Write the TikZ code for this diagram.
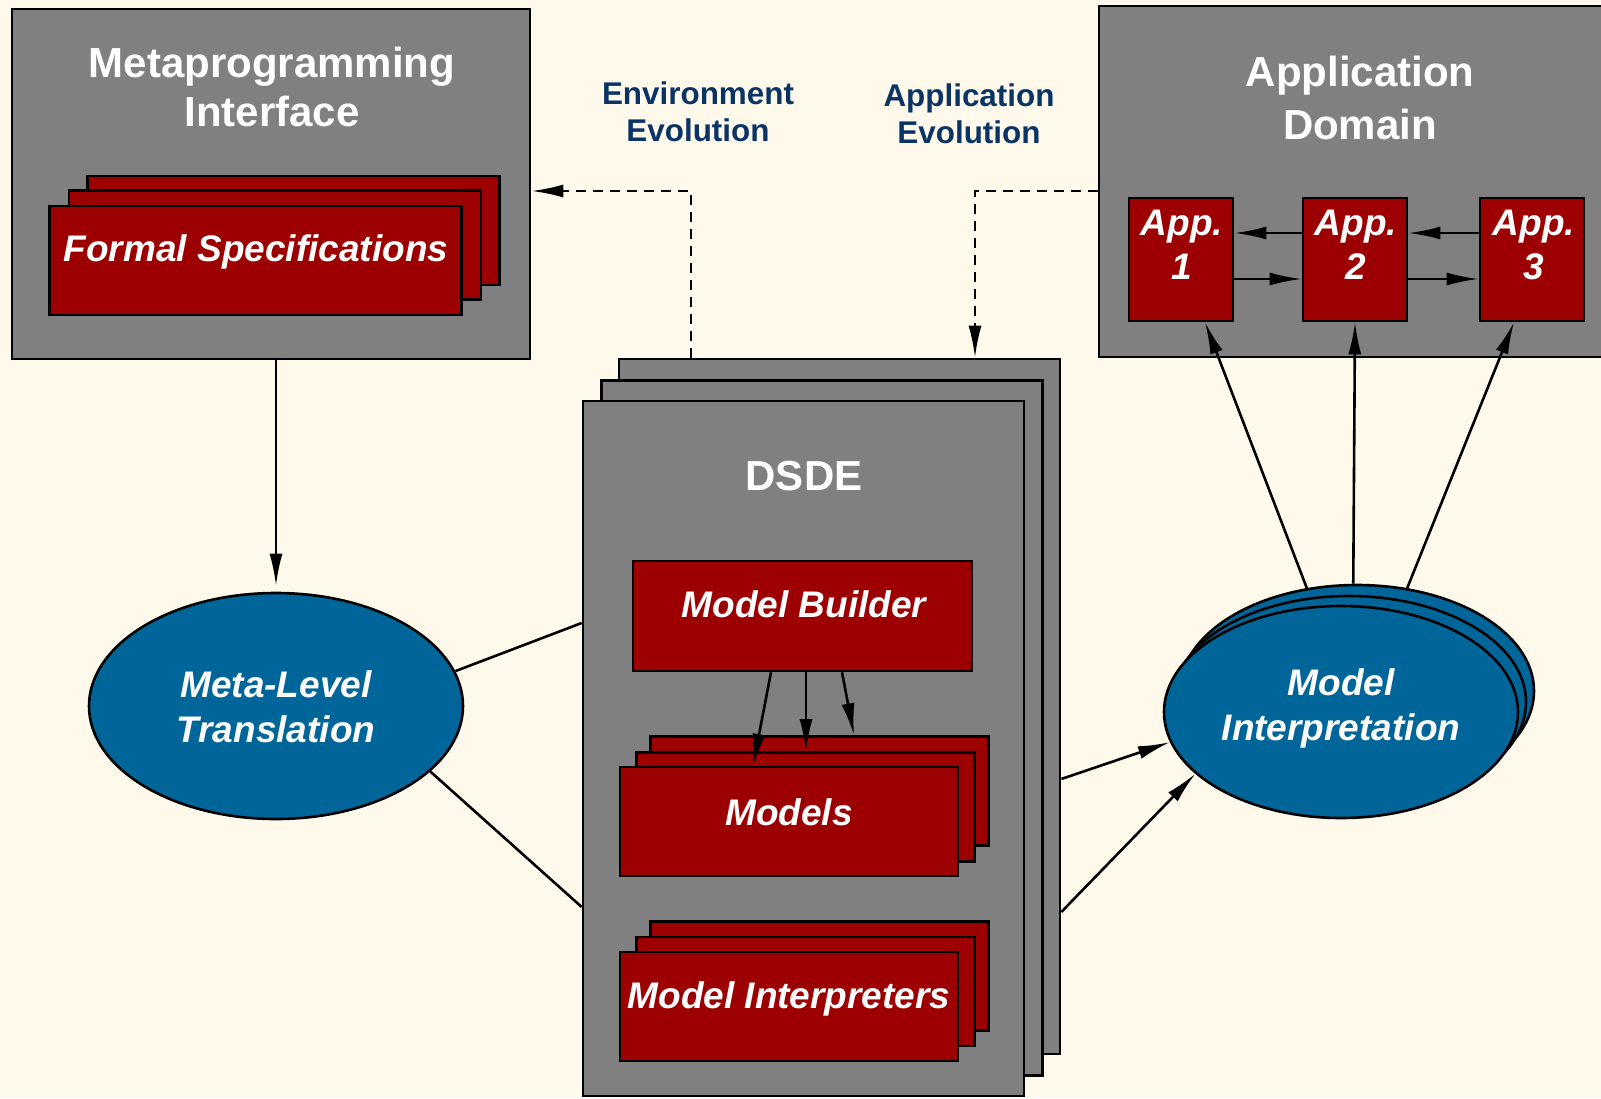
\documentclass[tikz,border=0pt]{standalone}
\usepackage{fontspec}
\setmainfont{Liberation Sans}
\usetikzlibrary{arrows.meta,shapes.geometric}
\definecolor{bgc}{HTML}{FFF9EC}
\definecolor{boxgray}{HTML}{808080}
\definecolor{dred}{HTML}{9C0000}
\definecolor{eblue}{HTML}{006699}
\definecolor{lblue}{HTML}{0A3366}
\begin{document}
\begin{tikzpicture}[x=0.5pt,y=-0.5pt,
  graybox/.style={draw=black,fill=boxgray,line width=1.3pt,inner sep=0pt},
  redbox/.style={draw=black,fill=dred,line width=1.3pt,inner sep=0pt},
  blueell/.style={ellipse,draw=black,fill=eblue,line width=1.3pt,inner sep=0pt},
  titletxt/.style={text=white,font=\bfseries\fontsize{21pt}{25pt}\selectfont,align=center,inner sep=0pt},
  itxt/.style={text=white,font=\bfseries\itshape\fontsize{18.5pt}{22.5pt}\selectfont,align=center,inner sep=0pt},
  evtxt/.style={text=lblue,font=\bfseries\fontsize{15.7pt}{18.5pt}\selectfont,align=center,inner sep=0pt},
  conn/.style={line width=1.3pt,-{Latex[length=16pt,width=6.5pt]}},
  plainln/.style={line width=1.3pt},
  dashconn/.style={line width=1.3pt,dash pattern=on 5pt off 3.5pt,-{Latex[length=16pt,width=6.5pt]}}
]
\useasboundingbox[fill=bgc] (0,0) rectangle (1601,1098);
\clip (0,0) rectangle (1601,1098);

% Metaprogramming interface
\node[graybox,minimum width=259pt,minimum height=175pt] (meta) at (271,184) {};
\node[titletxt,font=\bfseries\fontsize{21pt}{24.5pt}\selectfont] (metatitle) at (272,87) {Metaprogramming\\Interface};
\node[redbox,minimum width=206pt,minimum height=54.5pt] (fs3) at (293.5,230.5) {};
\node[redbox,minimum width=206pt,minimum height=54.5pt] (fs2) at (275,245) {};
\node[redbox,minimum width=206pt,minimum height=54.5pt] (fs1) at (255.5,260.5) {};
\node[itxt] (fstxt) at (256,252) {Formal Specifications};

% Application domain
\node[graybox,minimum width=260.5pt,minimum height=175.5pt] (appdom) at (1359.5,181.5) {};
\node[titletxt,font=\bfseries\fontsize{21pt}{26.5pt}\selectfont] (apptitle) at (1360,98) {Application\\Domain};
\node[redbox,minimum width=52pt,minimum height=61.5pt] (app1) at (1181,259.5) {};
\node[redbox,minimum width=52pt,minimum height=61.5pt] (app2) at (1355,259.5) {};
\node[redbox,minimum width=52pt,minimum height=61.5pt] (app3) at (1532,259.5) {};
\node[itxt,font=\bfseries\itshape\fontsize{18.5pt}{22pt}\selectfont] (app1t) at (1182,245) {App.\\1};
\node[itxt,font=\bfseries\itshape\fontsize{18.5pt}{22pt}\selectfont] (app2t) at (1356,245) {App.\\2};
\node[itxt,font=\bfseries\itshape\fontsize{18.5pt}{22pt}\selectfont] (app3t) at (1534,245) {App.\\3};

% Evolution labels
\node[evtxt] (envev) at (698,112) {Environment\\Evolution};
\node[evtxt] (appevl) at (969,114) {Application\\Evolution};

% DSDE stack
\node[graybox,minimum width=220.5pt,minimum height=347.5pt] (dsde3) at (839.5,706.5) {};
\node[graybox,minimum width=220.5pt,minimum height=347.5pt] (dsde2) at (822,728) {};
\node[graybox,minimum width=220.5pt,minimum height=347.5pt] (dsde1) at (803.5,748.5) {};
\node[titletxt] (dsdet) at (804,476) {DSDE};

\node[redbox,minimum width=169.5pt,minimum height=55pt] (mb) at (802.5,616) {};
\node[itxt] (mbt) at (804,604) {Model Builder};

\node[redbox,minimum width=169pt,minimum height=54.5pt] (mod3) at (819.5,791) {};
\node[redbox,minimum width=169pt,minimum height=54.5pt] (mod2) at (805.5,807) {};
\node[redbox,minimum width=169pt,minimum height=54.5pt] (mod1) at (789,821.5) {};
\node[itxt] (modt) at (789,812) {Models};

\node[redbox,minimum width=169pt,minimum height=54.5pt] (int3) at (819.5,976) {};
\node[redbox,minimum width=169pt,minimum height=54.5pt] (int2) at (805.5,991.5) {};
\node[redbox,minimum width=169pt,minimum height=54.5pt] (int1) at (789,1006.5) {};
\node[itxt] (intt) at (789,999) {Model Interpreters};

% Ellipses
\node[blueell,minimum width=187pt,minimum height=113pt] (mlt) at (276,706) {};
\node[itxt] (mltt) at (276,706.5) {Meta-Level\\Translation};

\node[blueell,minimum width=177pt,minimum height=106pt] (mi3) at (1357,691) {};
\node[blueell,minimum width=177pt,minimum height=106pt] (mi2) at (1349,702) {};
\node[blueell,minimum width=177pt,minimum height=106pt] (mi1) at (1341,712) {};
\node[itxt] (mit) at (1341,708) {Model\\Interpretation};

% Connectors
\coordinate (envc) at (691,191);
\coordinate (appc) at (975,191);
\draw[dashconn] (dsde3.north -| envc) -- (envc) -- (meta.east |- envc);
\draw[dashconn] (appdom.west |- appc) -- (appc) -- (dsde3.north -| appc);

\draw[conn] (meta.south -| mlt.north) -- ([yshift=3pt]mlt.north);
\draw[plainln] (mlt.11.7) -- ([yshift=62.75pt]dsde1.west);
\draw[plainln] (mlt.-23.9) -- ([yshift=-79.25pt]dsde1.west);

\draw[conn] ([xshift=-15.75pt]mb.south) -- ([xshift=-18pt]mod1.north);
\draw[conn] ([xshift=1.75pt]mb.south) -- ([xshift=0.25pt]mod2.north);
\draw[conn] ([xshift=19.75pt]mb.south) -- ([xshift=17.25pt]mod3.north);

\draw[conn] ([yshift=-36.25pt]dsde3.east) -- (mi1.190.7);
\draw[conn] ([yshift=-102.75pt]dsde3.east) -- (mi1.203.4);

\draw[conn] (mi3.116) -- ([xshift=12pt]app1.south);
\draw[conn] (mi3.92) -- (app2.south);
\draw[conn] (mi3.64) -- ([xshift=-9pt]app3.south);

\draw[conn] ([yshift=13.25pt]app2.west) -- ([yshift=13.25pt]app1.east);
\draw[conn] ([yshift=13.25pt]app3.west) -- ([yshift=13.25pt]app2.east);
\draw[conn] ([yshift=-9.75pt]app1.east) -- ([yshift=-9.75pt]app2.west);
\draw[conn] ([yshift=-9.75pt]app2.east) -- ([yshift=-9.75pt]app3.west);
\end{tikzpicture}
\end{document}
